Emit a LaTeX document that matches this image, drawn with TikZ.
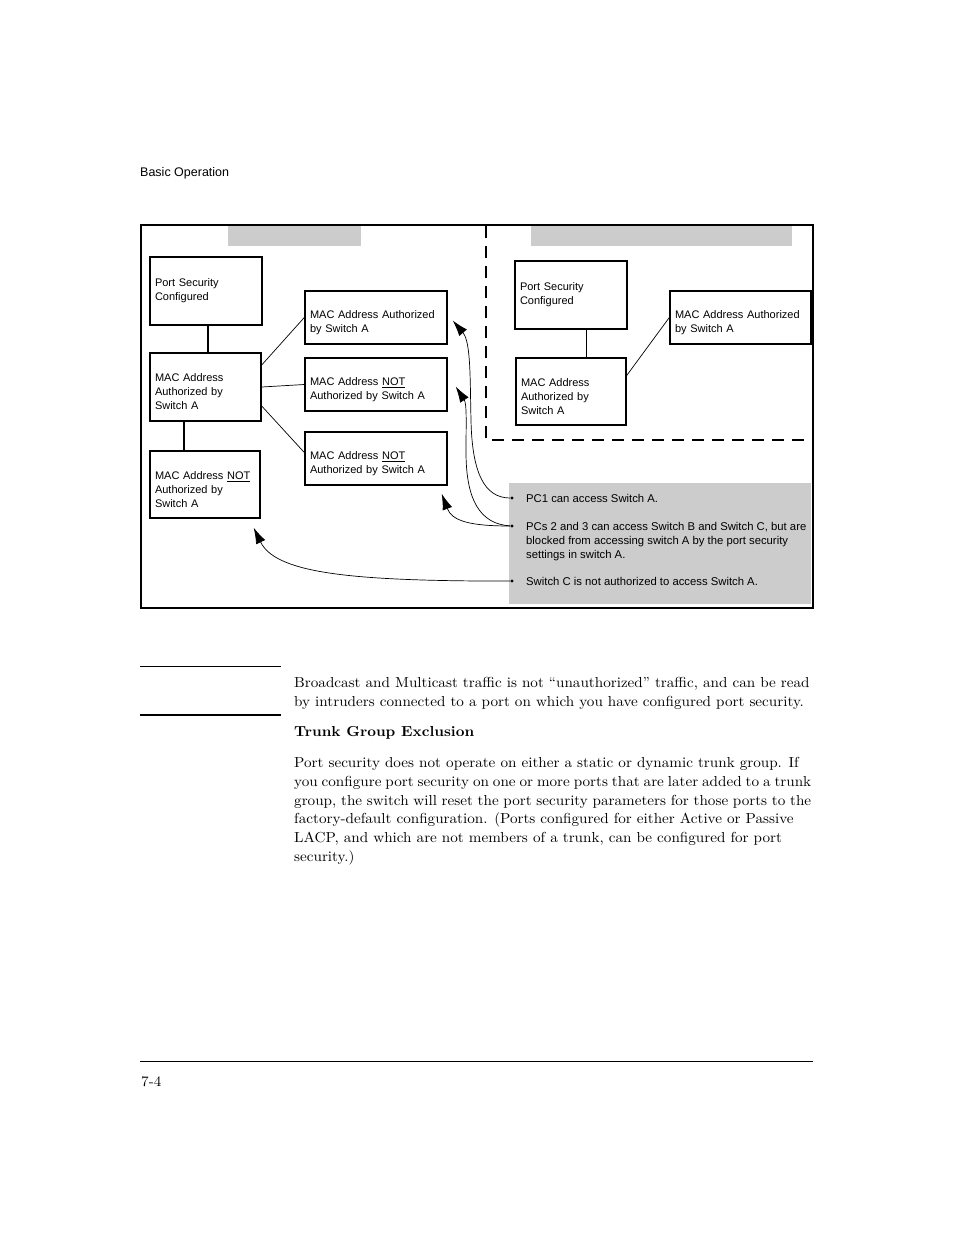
\documentclass[tikz,border=0pt]{standalone}
\usepackage{fontspec}
\setsansfont{Liberation Sans}
\newfontfamily\bodyfont{lmroman10}[Extension=.otf, UprightFont=*-regular, BoldFont=*-bold, FakeStretch=1.045]
\usetikzlibrary{arrows.meta}
\definecolor{barGray}{HTML}{CCCCCC}
\tikzset{
  box/.style={draw, line width=1.4pt, inner xsep=5pt, inner ysep=0pt, align=left,
    font=\sffamily\fontsize{11}{14}\selectfont},
  lowtext/.style={execute at begin node={\rule{0pt}{18pt}}},
  link/.style={line width=0.7pt},
  bar/.style={line width=2pt},
  pointer/.style={line width=0.7pt, -{Latex[length=16pt,width=10pt]}},
  dot/.style={circle, fill, inner sep=0pt, minimum size=3.4pt},
  bodytext/.style={anchor=base west, inner sep=0pt, font=\bodyfont\fontsize{14.5}{19}\selectfont},
  notetext/.style={anchor=base west, inner sep=0pt, align=left,
    font=\sffamily\fontsize{11.3}{14}\selectfont},
}
\newcommand\fullline[1]{\makebox[517pt][s]{#1}}
\begin{document}
\begin{tikzpicture}[x=1pt, y=-1pt]
    \useasboundingbox (0,0) rectangle (954,1235);
    % page header
    \node[anchor=base west, inner sep=0pt, font=\sffamily\fontsize{12.5}{15}\selectfont] (head) at (140,176) {Basic Operation};

    % frame, gray title bars and the dashed switch area
    \draw[line width=1.8pt] (141,225) rectangle (813,608);
    \fill[barGray] (228,226) rectangle (361,246);
    \fill[barGray] (531,226) rectangle (792,246);
    \draw[line width=1.8pt, dash pattern=on 12pt off 8pt] (486,226) -- (486,440) -- (813,440);

    % switch A
    \node[box, minimum height=68pt, text width=102pt] (psA) at (206,291) {Port Security\\Configured};
    \node[box, lowtext, minimum height=68pt, text width=101pt] (maA) at (205.5,387) {MAC Address\\Authorized by\\Switch A};
    \node[box, lowtext, minimum height=67pt, text width=100pt] (nmA) at (205,484.5) {MAC Address \underline{NOT}\\Authorized by\\Switch A};
    \node[box, lowtext, minimum height=53pt, text width=132pt] (okB) at (376,317.5) {MAC Address Authorized\\by Switch A};
    \node[box, lowtext, minimum height=53pt, text width=132pt] (noB) at (376,384.5) {MAC Address \underline{NOT}\\Authorized by Switch A};
    \node[box, lowtext, minimum height=53pt, text width=132pt] (noC) at (376,458.5) {MAC Address \underline{NOT}\\Authorized by Switch A};

    \draw[bar] ([xshift=2pt]psA.south) -- ([xshift=2pt]psA.south |- maA.north);
    \draw[bar] ([xshift=-22pt]maA.south) -- ([xshift=-22pt]maA.south |- nmA.north);
    \draw[link] ([yshift=22pt]maA.east) -- (okB.west);
    \draw[link] (maA.east) -- (noB.west);
    \draw[link] ([yshift=-19pt]maA.east) -- ([yshift=6pt]noC.west);

    % switch B
    \node[box, minimum height=68pt, text width=102pt] (psB) at (571,295) {Port Security\\Configured};
    \node[box, lowtext, minimum height=67pt, text width=100pt] (maB) at (571,391.5) {MAC Address\\Authorized by\\Switch A};
    \node[box, lowtext, minimum height=53pt, text width=131pt] (okC) at (740.5,317.5) {MAC Address Authorized\\by Switch A};

    \draw[link] ([xshift=15pt]psB.south) -- ([xshift=15pt]maB.north);
    \draw[link] ([yshift=16pt]maB.east) -- (okC.west);

    % notes
    \node[fill=barGray, minimum width=302pt, minimum height=121pt, inner sep=0pt] (note) at (660,543.5) {};
    \node[dot] (b1) at (512,498) {};
    \node[dot] (b2) at (512,526) {};
    \node[dot] (b3) at (512,581) {};
    \node[notetext] (n1) at (526,502) {PC1 can access Switch A.};
    \node[notetext, anchor=north west] (n2) at (526,522.5) {PCs 2 and 3 can access Switch B and Switch C, but are\\blocked from accessing switch A by the port security\\settings in switch A.};
    \node[notetext] (n3) at (526,585) {Switch C is not authorized to access Switch A.};

    \coordinate (t1) at ([shift={(5,3)}]okB.east);
    \coordinate (t2) at ([shift={(8,2)}]noB.east);
    \coordinate (t3) at ([shift={(-6,8)}]noC.south east);
    \coordinate (t4) at ([shift={(-7,9)}]nmA.south east);
    \draw[pointer] (b1) .. controls (484,498) and (472,472) .. (471,420) .. controls (470,380) and (471,342) .. (t1);
    \draw[pointer] (b2) .. controls (480,524) and (466,500) .. (466,452) .. controls (466,425) and (467,404) .. (t2);
    \draw[pointer] (b2) .. controls (470,526) and (452,521) .. (t3);
    \draw[pointer] (b3) -- (480,581) .. controls (345,580) and (275,572) .. (t4);

    % text below the figure
    \draw[line width=0.7pt] (140,666) -- (281,666);
    \draw[line width=1.8pt] (140,715) -- (281,715);
    \node[bodytext] (p1) at (294,687) {Broadcast and Multicast traffic is not “unauthorized” traffic, and can be read};
    \node[bodytext] (p2) at (294,706) {by intruders connected to a port on which you have configured port security.};
    \node[bodytext, font=\bodyfont\fontsize{14.5}{19}\selectfont\bfseries] (trunk) at (294,736) {Trunk Group Exclusion};
    \node[bodytext] (q1) at (294,767) {Port security does not operate on either a static or dynamic trunk group. If};
    \node[bodytext] (q2) at (294,786) {\fullline{you configure port security on one or more ports that are later added to a trunk}};
    \node[bodytext] (q3) at (294,805) {\fullline{group, the switch will reset the port security parameters for those ports to the}};
    \node[bodytext] (q4) at (294,823) {factory-default configuration. (Ports configured for either Active or Passive};
    \node[bodytext] (q5) at (294,842) {LACP, and which are not members of a trunk, can be configured for port};
    \node[bodytext] (q6) at (294,861) {security.)};

    % page footer
    \draw[line width=0.7pt] (140,1061) -- (813,1061);
    \node[bodytext] (page) at (141,1086) {7-4};
\end{tikzpicture}
\end{document}
